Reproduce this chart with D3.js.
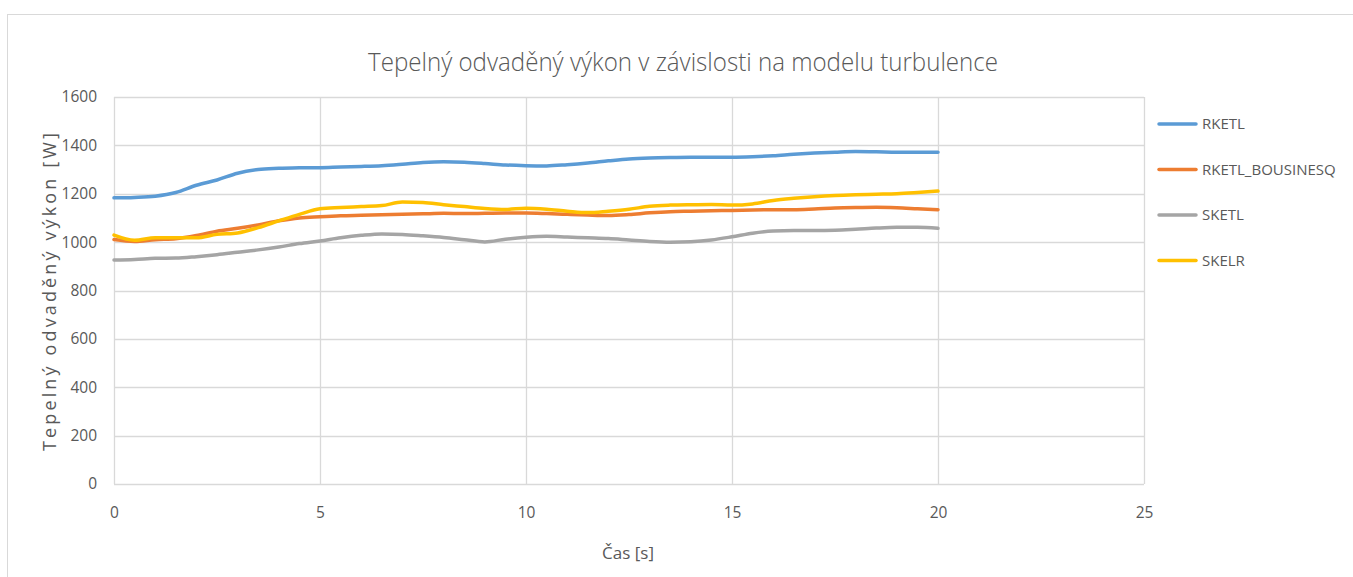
<!DOCTYPE html>
<html>
<head>
<meta charset="utf-8">
<script src="https://cdn.jsdelivr.net/npm/d3@7"></script>
<style>
  body { margin: 0; background: #fff; }
  text { font-family: "Open Sans", "Noto Sans", sans-serif; fill: #595959; }
</style>
</head>
<body>
<svg id="chart" width="1353" height="577"></svg>
<script>
// time points [s]
var times = [0,0.5,1,1.5,2,2.5,3,3.5,4,4.5,5,5.5,6,6.5,7,7.5,8,8.5,9,9.5,10,
             10.5,11,11.5,12,12.5,13,13.5,14,14.5,15,15.5,16,16.5,17,17.5,18,18.5,19,19.5,20];

var rketl = [1183,1185,1190,1205,1235,1257,1285,1300,1305,1308,1308,1311,1313,1316,1322,1329,1332,1330,1325,1319,1316,
             1315,1320,1327,1336,1344,1348,1350,1351,1351,1351,1353,1357,1363,1368,1372,1375,1374,1372,1372,1372];
var rketlBous = [1011,1003,1010,1014,1027,1045,1057,1071,1088,1100,1105,1109,1111,1113,1115,1117,1119,1118,1119,1120,1120,
                 1118,1115,1112,1110,1114,1121,1126,1128,1130,1131,1133,1134,1134,1137,1141,1143,1144,1142,1138,1134];
var sketl = [926,928,933,934,940,948,958,968,980,994,1005,1018,1028,1034,1032,1026,1019,1010,1001,1012,1020,
             1024,1021,1018,1015,1009,1003,1000,1002,1009,1022,1037,1046,1048,1048,1049,1053,1058,1061,1061,1057];
var skelr = [1029,1008,1018,1018,1018,1032,1038,1060,1088,1115,1138,1143,1147,1151,1166,1164,1155,1147,1139,1135,1140,
             1136,1128,1122,1128,1136,1148,1153,1155,1156,1153,1158,1172,1181,1188,1193,1196,1198,1200,1205,1211];

var seriesNames = ["RKETL", "RKETL_BOUSINESQ", "SKETL", "SKELR"];
var seriesValues = [rketl, rketlBous, sketl, skelr];
var colors = ["#5b9bd5", "#ed7d31", "#a5a5a5", "#ffc000"];

var xTicks = [0, 5, 10, 15, 20, 25];
var yTicks = [0, 200, 400, 600, 800, 1000, 1200, 1400, 1600];

var svg = d3.select("#chart");
var margin = {left: 114, top: 97, right: 1144, bottom: 484};

// chart frame
svg.append("rect")
    .attr("x", 7.5).attr("y", 14.5)
    .attr("width", 1360).attr("height", 600)
    .attr("fill", "none")
    .attr("stroke", "#d9d9d9");

var x = d3.scaleLinear().domain([0, 25]).range([margin.left, margin.right]);
var y = d3.scaleLinear().domain([0, 1600]).range([margin.bottom, margin.top]);

// gridlines
svg.append("g")
    .selectAll("line")
    .data(yTicks)
    .join("line")
        .attr("x1", margin.left).attr("x2", margin.right)
        .attr("y1", d => Math.round(y(d)) + 0.5).attr("y2", d => Math.round(y(d)) + 0.5)
        .attr("stroke", "#d9d9d9").attr("stroke-width", 1.3);

svg.append("g")
    .selectAll("line")
    .data(xTicks)
    .join("line")
        .attr("x1", d => Math.round(x(d)) + 0.5).attr("x2", d => Math.round(x(d)) + 0.5)
        .attr("y1", margin.top).attr("y2", margin.bottom)
        .attr("stroke", "#d9d9d9").attr("stroke-width", 1.3);

// axes labels
var yAxis = d3.axisLeft(y).tickValues(yTicks).tickFormat(d3.format("d")).tickSize(0).tickPadding(17);
svg.append("g")
    .attr("transform", "translate(" + margin.left + ",0)")
    .call(yAxis)
    .call(g => g.select(".domain").remove())
    .selectAll("text")
        .style("font-size", "15.5px")
        .attr("fill", "#595959");

var xAxis = d3.axisBottom(x).tickValues(xTicks).tickFormat(d3.format("d")).tickSize(0).tickPadding(23);
svg.append("g")
    .attr("transform", "translate(0," + margin.bottom + ")")
    .call(xAxis)
    .call(g => g.select(".domain").remove())
    .selectAll("text")
        .style("font-size", "15.5px")
        .attr("fill", "#595959");

// lines
var line = d3.line()
    .x((d, i) => x(times[i]))
    .y(d => y(d))
    .curve(d3.curveMonotoneX);

svg.append("g")
    .selectAll("path")
    .data(seriesValues)
    .join("path")
        .attr("d", d => line(d))
        .attr("fill", "none")
        .attr("stroke", (d, i) => colors[i])
        .attr("stroke-width", 3.5)
        .attr("stroke-linecap", "round")
        .attr("stroke-linejoin", "round");

// title
svg.append("text")
    .attr("x", 683).attr("y", 71)
    .attr("text-anchor", "middle")
    .style("font-size", "25px")
    .style("font-weight", 300)
    .attr("textLength", 630)
    .attr("lengthAdjust", "spacingAndGlyphs")
    .text("Tepelný odvaděný výkon v závislosti na modelu turbulence");

svg.append("text")
    .attr("x", 628).attr("y", 559)
    .attr("text-anchor", "middle")
    .style("font-size", "17px")
    .text("Čas [s]");

svg.append("text")
    .attr("transform", "translate(56,292) rotate(-90)")
    .attr("text-anchor", "middle")
    .style("font-size", "18px")
    .attr("textLength", 318)
    .attr("lengthAdjust", "spacing")
    .text("Tepelný odvaděný výkon [W]");

// legend
var legend = svg.append("g")
    .selectAll("g")
    .data(seriesNames)
    .join("g")
        .attr("transform", (d, i) => "translate(1159," + (124 + i * 45.5) + ")");

legend.append("line")
    .attr("x1", 0).attr("x2", 37)
    .attr("stroke", (d, i) => colors[i])
    .attr("stroke-width", 3.5)
    .attr("stroke-linecap", "round");

legend.append("text")
    .attr("x", 43).attr("dy", "0.35em")
    .style("font-size", "15px")
    .text(d => d);
</script>
</body>
</html>
